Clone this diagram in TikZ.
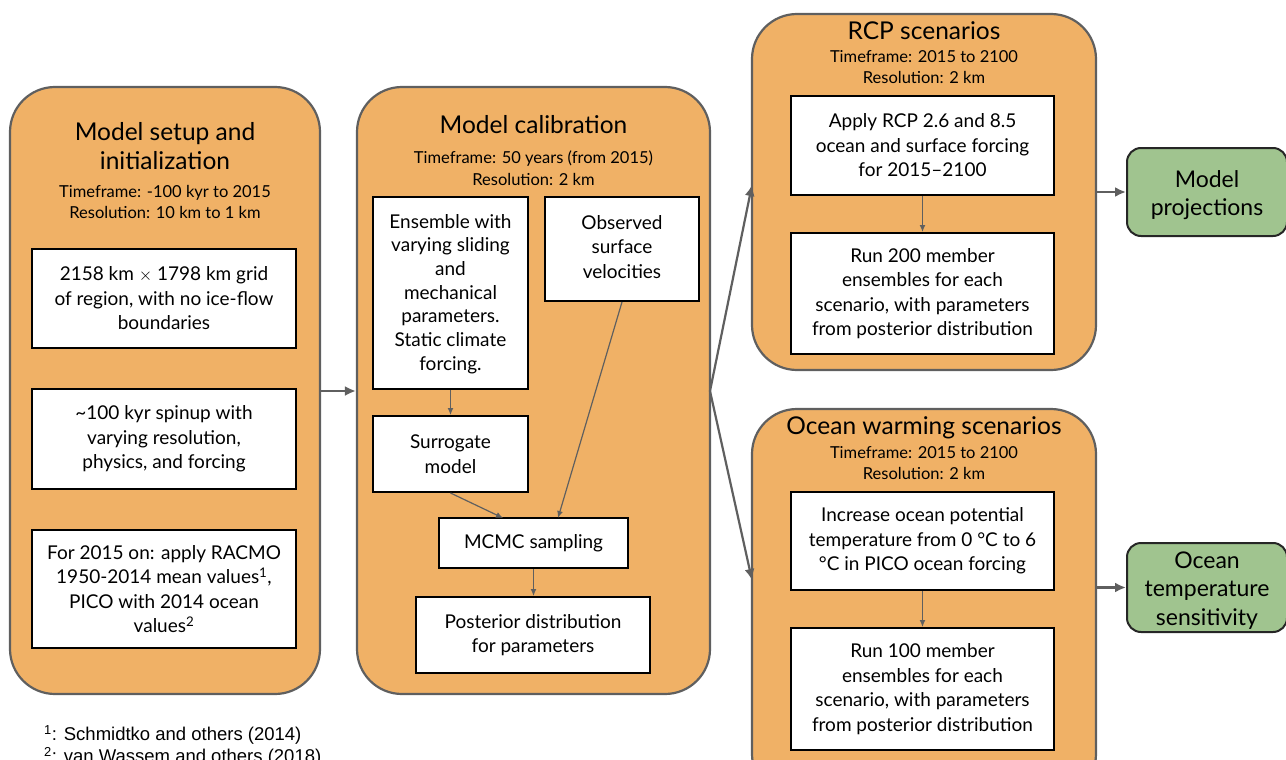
\documentclass[tikz,border=0pt]{standalone}
\usepackage{fontspec}
\setmainfont{Lato}
\newfontfamily\notefont{Liberation Sans}
\usetikzlibrary{arrows.meta}
\definecolor{orangefill}{HTML}{F0B166}
\definecolor{graybord}{HTML}{5F5F5F}
\definecolor{greenfill}{HTML}{A0C48F}
\tikzset{
  bigbox/.style={draw=graybord, line width=2.2pt, fill=orangefill, rounded corners=45pt, inner sep=0pt},
  whitebox/.style={draw=black, line width=2pt, fill=white, inner sep=0pt},
  greenbox/.style={draw=black!85, line width=2pt, fill=greenfill, rounded corners=14pt, inner sep=0pt},
  bodytxt/.style={align=center, font=\fontsize{19}{24.5}\selectfont, inner sep=0pt},
  titletxt/.style={align=center, font=\fontsize{24.5}{29}\selectfont, inner sep=0pt},
  subtxt/.style={align=center, font=\fontsize{16.5}{21.5}\selectfont, inner sep=0pt},
  greentxt/.style={align=center, font=\fontsize{23}{28.5}\selectfont, inner sep=0pt},
  bigarrow/.style={draw=graybord, line width=2.2pt, -{Latex[length=11pt,width=10pt]}},
  smallarrow/.style={draw=graybord, line width=1.2pt, -{Latex[length=7pt,width=6pt]}},
}
\begin{document}
\begin{tikzpicture}[x=1pt,y=-1pt]
\useasboundingbox (0,0) rectangle (1286,760);
% big boxes
\node[bigbox, minimum width=310, minimum height=607] (setup) at (165,390.5) {};
\node[bigbox, minimum width=353, minimum height=607] (calib) at (533.5,390.5) {};
\node[bigbox, minimum width=344, minimum height=356] (rcp) at (924,192) {};
\node[bigbox, minimum width=344, minimum height=390] (ocean) at (924,604) {};
% setup titles
\node[titletxt] (setupt) at (165,146) {Model setup and\\initialization};
\node[subtxt] (setups) at (165,202) {Timeframe: -100 kyr to 2015\\Resolution: 10 km to 1 km};
% setup boxes
\node[whitebox, minimum width=264, minimum height=99] (s1) at (164,298.5) {};
\node[bodytxt] at (s1) {2158 km $\times$ 1798 km grid\\of region, with no ice-flow\\boundaries};
\node[whitebox, minimum width=264, minimum height=100] (s2) at (164,439) {};
\node[bodytxt] at (s2) {\textasciitilde100 kyr spinup with\\varying resolution,\\physics, and forcing};
\node[whitebox, minimum width=264, minimum height=118] (s3) at (164,589) {};
\node[bodytxt] at (s3) {For 2015 on: apply RACMO\\1950-2014 mean values\textsuperscript{1},\\PICO with 2014 ocean\\values\textsuperscript{2}};
% calibration
\node[titletxt] (calibt) at (533.5,125) {Model calibration};
\node[subtxt] (calibs) at (533.5,168) {Timeframe: 50 years (from 2015)\\Resolution: 2 km};
\node[whitebox, minimum width=155, minimum height=192] (ens) at (450.5,293) {};
\node[bodytxt, font=\fontsize{19}{23.7}\selectfont] at ([yshift=-1]ens) {Ensemble with\\varying sliding\\and\\mechanical\\parameters.\\Static climate\\forcing.};
\node[whitebox, minimum width=154, minimum height=104] (obs) at (622,249) {};
\node[bodytxt] at ([yshift=2]obs) {Observed\\surface\\velocities};
\node[whitebox, minimum width=155, minimum height=76] (sur) at (450.5,454) {};
\node[bodytxt] at (sur) {Surrogate\\model};
\node[whitebox, minimum width=189, minimum height=50] (mcmc) at (533.5,543) {};
\node[bodytxt] at (mcmc) {MCMC sampling};
\node[whitebox, minimum width=234, minimum height=76] (post) at (533,635) {};
\node[bodytxt] at (post) {Posterior distribution\\for parameters};
% RCP
\node[titletxt] (rcpt) at (924,31) {RCP scenarios};
\node[subtxt] (rcps) at (924,67) {Timeframe: 2015 to 2100\\Resolution: 2 km};
\node[whitebox, minimum width=263, minimum height=99] (r1) at (922.5,145.5) {};
\node[bodytxt] at (r1) {Apply RCP 2.6 and 8.5\\ocean and surface forcing\\for 2015--2100};
\node[whitebox, minimum width=263, minimum height=121] (r2) at (922.5,293.5) {};
\node[bodytxt] at (r2) {Run 200 member\\ensembles for each\\scenario, with parameters\\from posterior distribution};
% Ocean
\node[titletxt] (oceant) at (924,428) {Ocean warming scenarios};
\node[subtxt] (oceans) at (924,463) {Timeframe: 2015 to 2100\\Resolution: 2 km};
\node[whitebox, minimum width=263, minimum height=98] (o1) at (922.5,541) {};
\node[bodytxt] at (o1) {Increase ocean potential\\temperature from 0 \textdegree C to 6\\\textdegree C in PICO ocean forcing};
\node[whitebox, minimum width=263, minimum height=122] (o2) at (922.5,689) {};
\node[bodytxt] at (o2) {Run 100 member\\ensembles for each\\scenario, with parameters\\from posterior distribution};
% green
\node[greenbox, minimum width=160, minimum height=88] (proj) at (1207,192) {};
\node[greentxt] at ([yshift=-3]proj) {Model\\projections};
\node[greenbox, minimum width=160, minimum height=89] (sens) at (1207,587.5) {};
\node[greentxt] at ([yshift=-3]sens) {Ocean\\temperature\\sensitivity};
% footnotes
\node[anchor=west, inner sep=0pt, font=\notefont\fontsize{18.5}{22}\selectfont, align=left] (notes) at (44,746) {\textsuperscript{1}: Schmidtko and others (2014)\\\textsuperscript{2}: van Wassem and others (2018)};
% arrows
\coordinate (cr) at (710,391);
\draw[bigarrow] (setup.east |- cr) -- (calib.west |- cr);
\draw[bigarrow] (cr) -- (752,185);
\draw[bigarrow] (cr) -- (752,580);
\draw[bigarrow] (rcp.east |- proj) -- (proj.west);
\draw[bigarrow] (ocean.east |- sens) -- (sens.west);
\draw[smallarrow] (ens.south) -- (sur.north);
\draw[smallarrow] (sur.south) -- (503,518);
\draw[smallarrow] (obs.south) -- (558,518);
\draw[smallarrow] (mcmc.south) -- (post.north -| mcmc.south);
\draw[smallarrow] (r1.south) -- (r2.north);
\draw[smallarrow] (o1.south) -- (o2.north);
\end{tikzpicture}
\end{document}
